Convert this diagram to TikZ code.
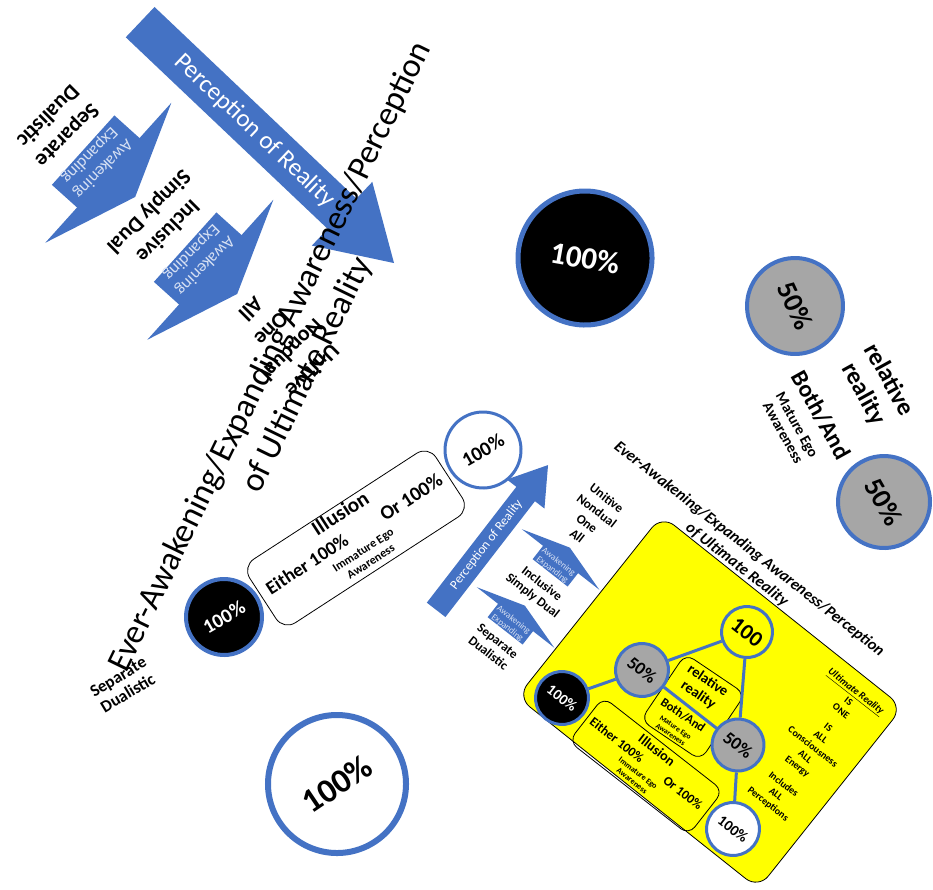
\documentclass[tikz,border=0pt]{standalone}
\usepackage{fontspec}
\setmainfont{Carlito}
\usetikzlibrary{shapes.arrows,calc}
\definecolor{ringblue}{RGB}{68,114,196}
\definecolor{ringgray}{RGB}{166,166,166}
\definecolor{panelyellow}{RGB}{255,255,0}
\definecolor{arrowtext}{RGB}{214,224,243}
\newcommand\fsz[2]{\fontsize{#1}{#2}\selectfont}

\begin{document}
\begin{tikzpicture}[
        x=1pt, y=-1pt,
        ring/.style={circle, draw=ringblue, line width=4pt, inner sep=0pt},
        blockarrow/.style={single arrow, fill=ringblue, inner xsep=0pt, minimum width=0pt, anchor=tail},
        lbl/.style={align=center, inner sep=0pt},
        roundbox/.style={rectangle, draw=black, line width=0.8pt, inner sep=0pt},
        link/.style={draw=ringblue, line width=3pt}
    ]

    \path[use as bounding box, fill=white] (0,0) rectangle (933,889);

    % upper left: perception arrow and awakening steps
    \node[blockarrow, rotate=-43.5, minimum height=350pt, inner ysep=10pt,
        single arrow head extend=23pt, single arrow tip angle=63,
        text=white, font=\fsz{25}{30}] (perc1) at (140,22) {Perception of Reality};
    \node[blockarrow, rotate=-42, minimum height=70pt, inner ysep=46.5pt,
        single arrow head extend=47.5pt, single arrow tip angle=138] (wake1) at (83,150) {};
    \node[blockarrow, rotate=-42, minimum height=70pt, inner ysep=46.5pt,
        single arrow head extend=47.5pt, single arrow tip angle=138] (wake2) at (185,247) {};
    \node[lbl, rotate=225, text=arrowtext, font=\fsz{17}{19}] (wake1txt)
        at ($(wake1.tail)!0.25!(wake1.tip)$) {Awakening\\Expanding};
    \node[lbl, rotate=225, text=arrowtext, font=\fsz{17}{19}] (wake2txt)
        at ($(wake2.tail)!0.25!(wake2.tip)$) {Awakening\\Expanding};

    \node[lbl, rotate=225, font={\fsz{22}{27}\bfseries}] (sep1) at (58,126) {Separate\\Dualistic};
    \node[lbl, rotate=225, font={\fsz{22}{27}\bfseries}] (incl1) at (158,221) {Inclusive\\Simply Dual};
    \node[lbl, rotate=225, font={\fsz{22}{29}\bfseries}] (unit1) at (282,340) {Unitive\\Nondual\\One\\All};

    \node[lbl, rotate=64, font=\fsz{34}{41}] (title1) at (289,366)
        {Ever-Awakening/Expanding Awareness/Perception\\of Ultimate Reality};

    % upper right
    \node[ring, line width=5pt, fill=black, text=white, minimum size=134pt, rotate=-10,
        font={\fsz{31}{31}\bfseries}] (big100) at (585,258) {100\%};
    \node[ring, fill=ringgray, minimum size=96pt, rotate=-65,
        font={\fsz{28}{28}\bfseries}] (half1) at (795,306) {50\%};
    \node[ring, fill=ringgray, minimum size=92pt, rotate=-60,
        font={\fsz{28}{28}\bfseries}] (half2) at (884,502) {50\%};
    \node[lbl, rotate=-61, font={\fsz{25}{29}\bfseries}] (rel1) at (876,387) {relative\\reality};
    \node[lbl, rotate=-61, font={\fsz{24}{28}\bfseries}] (both1) at (821,415) {Both/And};
    \node[lbl, rotate=-61, font={\fsz{15}{16}\bfseries}] (mature1) at (790,429) {Mature Ego\\Awareness};

    \node[lbl, rotate=-38, font={\fsz{16}{20}\bfseries\itshape}] (title2) at (743,557)
        {Ever-Awakening/Expanding Awareness/Perception\\of Ultimate Reality};

    % left: illusion box and circles
    \node[roundbox, fill=white, rounded corners=14pt, minimum width=222pt, minimum height=76pt,
        rotate=33] (illus1) at (356,538) {};
    \node[lbl, rotate=33, font={\fsz{21}{21}\bfseries}] (illus1txt) at (340,513) {Illusion};
    \node[lbl, rotate=33, font={\fsz{19}{19}\bfseries}] (either1) at (307,564) {Either 100\%};
    \node[lbl, rotate=33, font={\fsz{20}{20}\bfseries}] (or1) at (411,497) {Or 100\%};
    \node[lbl, rotate=33, font={\fsz{12}{14}\bfseries}] (immat1) at (367,556) {Immature Ego\\Awareness};

    \node[ring, line width=3pt, fill=white, minimum size=76pt, rotate=30,
        font={\fsz{20}{20}\bfseries}] (mid100) at (483,450) {100\%};
    \node[ring, fill=black, text=white, minimum size=76pt, rotate=30,
        font={\fsz{20}{20}\bfseries}] (left100) at (224,617) {100\%};
    \node[ring, line width=6pt, fill=white, minimum size=138pt, rotate=34,
        font={\fsz{34}{34}\bfseries}] (low100) at (337,784) {100\%};
    \node[lbl, rotate=31, font={\fsz{17}{19}\bfseries}] (sep3) at (123,685) {Separate\\Dualistic};

    % middle: small perception arrow and steps
    \node[blockarrow, rotate=52.3, minimum height=183pt, inner ysep=6pt,
        single arrow head extend=12pt, single arrow tip angle=66,
        text=white, font=\fsz{13}{13}] (perc2) at (436,610) {Perception of Reality};
    \node[blockarrow, rotate=52, minimum height=32pt, inner ysep=22pt,
        single arrow head extend=27pt, single arrow tip angle=146] (wake3) at (505,631) {};
    \node[blockarrow, rotate=52, minimum height=32pt, inner ysep=22pt,
        single arrow head extend=27pt, single arrow tip angle=146] (wake4) at (550,573) {};
    \node[lbl, rotate=-38, text=arrowtext, font=\fsz{9}{10}] (wake3txt)
        at ($(wake3.tail)!0.27!(wake3.tip)$) {Awakening\\Expanding};
    \node[lbl, rotate=-38, text=arrowtext, font=\fsz{9}{10}] (wake4txt)
        at ($(wake4.tail)!0.27!(wake4.tip)$) {Awakening\\Expanding};

    \node[lbl, rotate=-38, font={\fsz{13}{15}\bfseries}] (sep2) at (493,647) {Separate\\Dualistic};
    \node[lbl, rotate=-38, font={\fsz{13}{15}\bfseries}] (incl2) at (537,590) {Inclusive\\Simply Dual};
    \node[lbl, rotate=-38, font={\fsz{13}{16}\bfseries}] (unit2) at (592,517) {Unitive\\Nondual\\One\\All};

    % yellow panel
    \node[roundbox, fill=panelyellow, rounded corners=16pt, minimum width=308pt, minimum height=232pt,
        rotate=-38.5] (panel) at (710,702) {};
    \node[roundbox, rounded corners=10pt, minimum width=72pt, minimum height=80pt,
        rotate=-34] (relbox) at (693,707) {};
    \node[lbl, rotate=-34, font={\fsz{14.5}{17}\bfseries}] (rel2) at (703,688) {relative\\reality};
    \node[lbl, rotate=-34, font={\fsz{12.5}{13}\bfseries}] (both2) at (683,715) {Both/And};
    \node[lbl, rotate=-34, font={\fsz{7.5}{9}\bfseries}] (mature2) at (673,731) {Mature Ego\\Awareness};

    \node[roundbox, rounded corners=10pt, minimum width=152pt, minimum height=56pt,
        rotate=-38] (illus2) at (646,766) {};
    \node[lbl, rotate=-38, font={\fsz{14}{14}\bfseries}] (illus2txt) at (657,750) {Illusion};
    \node[lbl, rotate=-38, font={\fsz{13}{13}\bfseries}] (either2) at (617,740) {Either 100\%};
    \node[lbl, rotate=-38, font={\fsz{13}{13}\bfseries}] (or2) at (683,793) {Or 100\%};
    \node[lbl, rotate=-38, font={\fsz{8}{10}\bfseries}] (immat2) at (635,777) {Immature Ego\\Awareness};

    \node[ring, line width=3pt, fill=panelyellow, minimum size=51pt, rotate=-38,
        font={\fsz{22}{22}\bfseries}] (p100) at (747,632) {100};
    \node[ring, line width=3pt, fill=ringgray, minimum size=53pt, rotate=-38,
        font={\fsz{18}{18}\bfseries}] (p50a) at (642,670) {50\%};
    \node[ring, line width=3pt, fill=black, text=white, minimum size=53pt, rotate=-38,
        font={\fsz{15}{15}\bfseries}] (pblack) at (562,698) {100\%};
    \node[ring, line width=3pt, fill=ringgray, minimum size=52pt, rotate=-38,
        font={\fsz{18}{18}\bfseries}] (p50b) at (738,745) {50\%};
    \node[ring, line width=3pt, fill=white, minimum size=53pt, rotate=-38,
        font={\fsz{15}{15}\bfseries}] (pwhite) at (733,829) {100\%};

    \draw[link] (pblack) -- (p50a);
    \draw[link] (p50a) -- (p100);
    \draw[link] (p100) -- (p50b);
    \draw[link] (p50a) -- (p50b);
    \draw[link] (p50b) -- (pwhite);

    \node[lbl, rotate=-38, font={\fsz{10}{12.5}\bfseries}] (ultim) at (812,748)
        {\underline{\textit{Ultimate Reality}}\\IS\\ONE\\[8pt]IS\\ALL\\Consciousness\\ALL\\Energy\\[10pt]Includes\\ALL\\Perceptions};

\end{tikzpicture}
\end{document}
